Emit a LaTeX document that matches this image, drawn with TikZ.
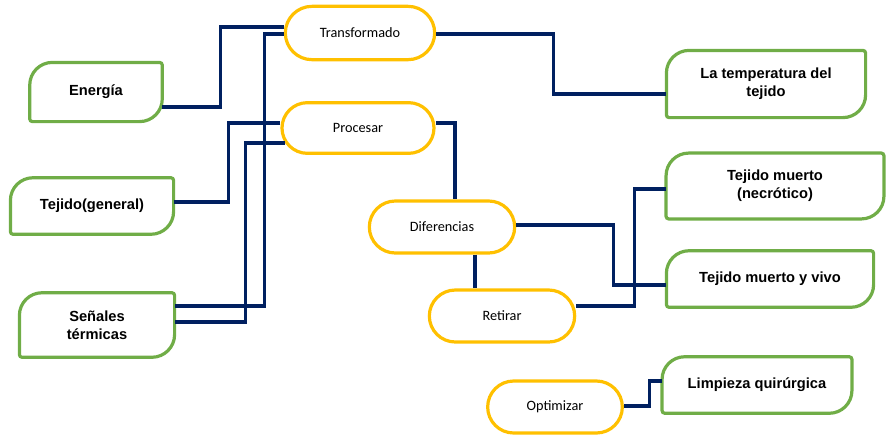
\documentclass[tikz,border=0pt]{standalone}
\usepackage{fontspec}
\setmainfont{Liberation Sans}
\newfontfamily\calibri{Carlito}
\usetikzlibrary{positioning,shapes.misc,calc}
\definecolor{leafgreen}{HTML}{70AD47}
\definecolor{sunyellow}{HTML}{FFC000}
\definecolor{navyline}{HTML}{002060}
\tikzset{>=latex}
\tikzset{
  gbox/.style={inner sep=2pt, align=center, minimum height=44pt, font=\fontsize{11}{13.5}\selectfont\bfseries},
  ybox/.style={draw=sunyellow, line width=2.4pt, rounded rectangle, minimum height=39pt, inner sep=2pt, font=\calibri\fontsize{10.7}{12}\selectfont},
  gline/.style={draw=leafgreen, line width=2.4pt},
  link/.style={draw=navyline, line width=2.3pt},
}
% green frame: big round top left and bottom right
\newcommand{\gframe}[1]{%
  \draw[gline] ([yshift=-17pt]#1.north west) arc[start angle=180, end angle=90, radius=17pt]
    -- ([xshift=-2pt]#1.north east) arc[start angle=90, end angle=0, radius=2pt]
    -- ([yshift=17pt]#1.south east) arc[start angle=0, end angle=-90, radius=17pt]
    -- ([xshift=2pt]#1.south west) arc[start angle=270, end angle=180, radius=2pt] -- cycle;}

\begin{document}
\begin{tikzpicture}[x=0.75pt, y=-0.75pt]
  \useasboundingbox (0,0) rectangle (896,440);
  % left
  \node[gbox, minimum width=99pt] (energia) at (96,92) {\raisebox{3pt}{Energía}};
  \node[gbox, minimum width=122pt, minimum height=42pt] (tejgen) at (92,206) {Tejido(general)};
  \node[gbox, minimum width=116pt, minimum height=48pt] (senales) at (97,325) {Señales\\térmicas};
  % middle
  \node[ybox, minimum width=116pt, minimum height=40pt] (transf) at (360,33) {Transformado};
  \node[ybox, minimum width=118pt, minimum height=38pt] (procesar) at (358,128) {Procesar};
  \node[ybox, minimum width=113pt] (difer) at (442,227) {Diferencias};
  \node[ybox, minimum width=113pt] (retirar) at (502,316) {Retirar};
  \node[ybox, minimum width=105pt] (optim) at (555,407) {Optimizar};
  % right
  \node[gbox, minimum width=149pt, minimum height=50pt] (temp) at (766,84) {La temperatura del\\tejido};
  \node[gbox, minimum width=163pt, minimum height=49pt] (necro) at (775,186) {Tejido muerto\\(necrótico)};
  \node[gbox, minimum width=155pt, minimum height=42pt] (vivo) at (770,279) {\raisebox{2pt}{Tejido muerto y vivo}};
  \node[gbox, minimum width=142pt, minimum height=42pt] (limp) at (757,385) {\raisebox{3pt}{Limpieza quirúrgica}};
  \foreach \n in {energia,tejgen,senales,temp,necro,vivo,limp} \gframe{\n};

  \draw[link] ([shift={(0,15)}]energia.east) -- ++(58,0) |- ([shift={(0,-6)}]transf.west);
  \draw[link] ([shift={(0,1)}]transf.west) -- ++(-19,0) |- ([shift={(0,-19)}]senales.east);
  \draw[link] ([shift={(0,-4)}]tejgen.east) -- ++(55,0) |- ([shift={(0,-5)}]procesar.west);
  \draw[link] ([shift={(5,15)}]procesar.west) -- ++(-40,0) |- ([shift={(0,-3)}]senales.east);
  \draw[link] ([shift={(0,-5)}]procesar.east) -| ([shift={(13,0)}]difer.north);
  \coordinate (d1) at ([shift={(33,0)}]difer.south);
  \draw[link] (d1) -- (d1 |- retirar.north);
  \draw[link] ([shift={(0,1)}]transf.east) -- ++(117,0) |- ([shift={(0,10)}]temp.west);
  \draw[link] ([shift={(0,-2)}]difer.east) -- ++(97,0) |- ([shift={(0,6)}]vivo.west);
  \draw[link] ([shift={(0,-10)}]retirar.east) -- ++(58,0) |- ([shift={(0,3)}]necro.west);
  \draw[link] ([shift={(0,-1)}]optim.east) -- ++(26,0) |- ([shift={(0,-4)}]limp.west);
\end{tikzpicture}
\end{document}
